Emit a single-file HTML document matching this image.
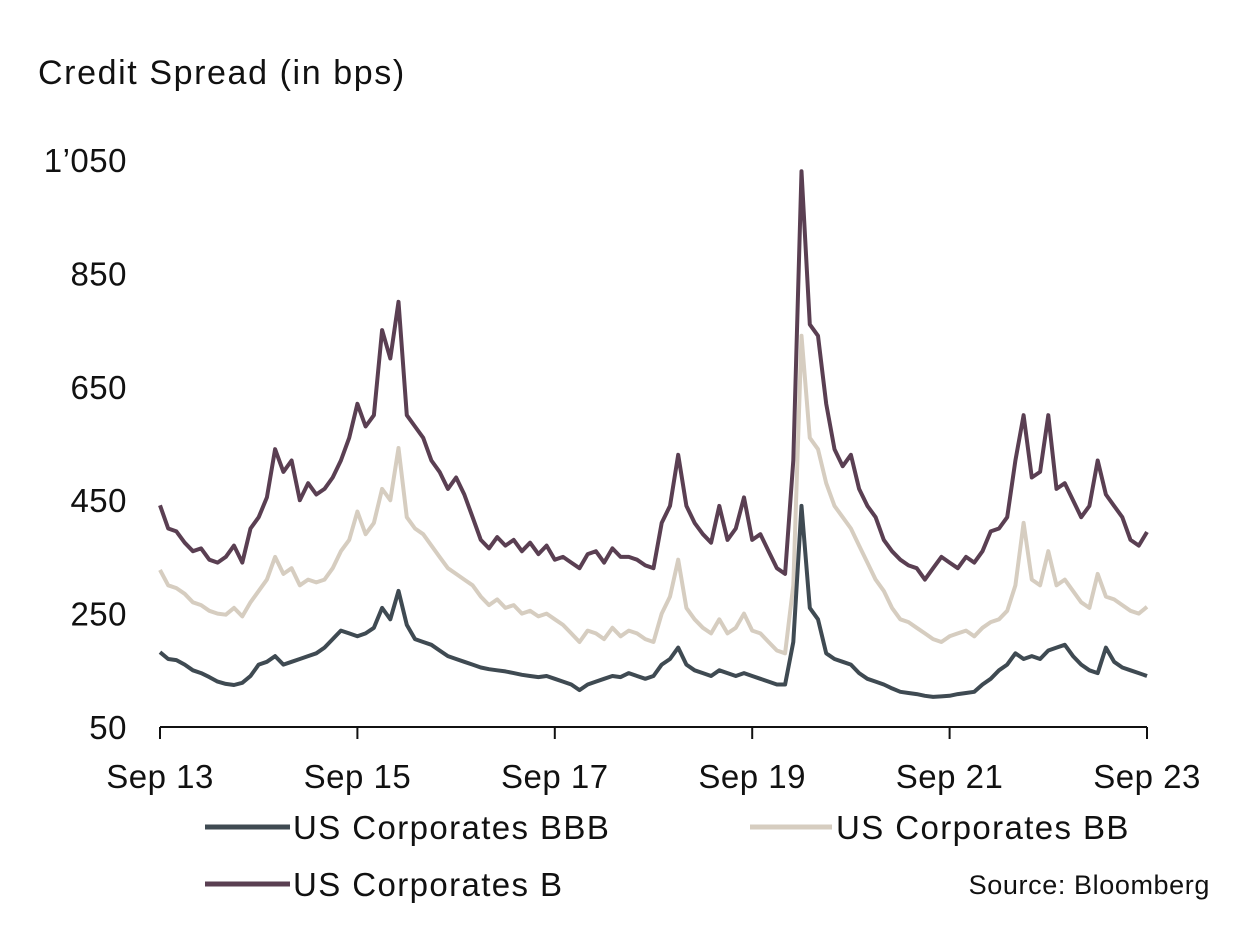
<!DOCTYPE html>
<html><head><meta charset="utf-8"><style>
html,body{margin:0;padding:0;background:#fff;}
svg{display:block;font-family:"Liberation Sans",sans-serif;}
</style></head><body>
<svg id="chart" width="1249" height="949">
<text x="38" y="84" font-size="34" letter-spacing="1.6" fill="#111">Credit Spread (in bps)</text>
<g id="yaxis"></g>
<g id="xaxis"></g>
<g id="series"></g>
<g>
<line x1="205" y1="827" x2="290" y2="827" stroke="#3f4a52" stroke-width="5"/>
<text x="293" y="839" font-size="33" letter-spacing="1.4" fill="#111">US Corporates BBB</text>
<line x1="750" y1="827" x2="832" y2="827" stroke="#d6cdc0" stroke-width="5"/>
<text x="836" y="839" font-size="33" letter-spacing="1.4" fill="#111">US Corporates BB</text>
<line x1="205" y1="884" x2="290" y2="884" stroke="#5a3f52" stroke-width="5"/>
<text x="293" y="896" font-size="33" letter-spacing="1.4" fill="#111">US Corporates B</text>
</g>
<text x="1210" y="894" font-size="27" letter-spacing="0.6" fill="#111" text-anchor="end">Source: Bloomberg</text>
</svg>
<script>
const yTicks=[50,250,450,650,850,1050];
const yTickLabels=["50","250","450","650","850","1’050"];
const xTickLabels=["Sep 13","Sep 15","Sep 17","Sep 19","Sep 21","Sep 23"];
const xTickMonths=[0,24,48,72,96,120];
const seriesB=[441,400,395,375,360,365,345,340,350,370,340,400,420,455,540,500,520,450,480,460,470,490,520,560,620,580,600,750,700,800,600,580,560,520,500,470,490,460,420,380,365,385,370,380,360,375,355,370,345,350,340,330,355,360,340,365,350,350,345,335,330,410,440,530,440,410,390,375,440,380,400,455,380,390,360,330,320,520,1030,760,740,620,540,510,530,470,440,420,380,360,345,335,330,310,330,350,340,330,350,340,360,395,400,420,520,600,490,500,600,470,480,450,420,440,520,460,440,420,380,370,394];
const seriesBB=[327,300,295,285,270,265,255,250,248,260,245,270,290,310,350,320,330,300,310,305,310,330,360,380,430,390,410,470,450,542,420,400,390,370,350,330,320,310,300,280,265,275,260,265,250,255,245,250,240,230,215,200,220,215,205,225,210,220,215,205,200,250,280,345,260,240,225,215,240,215,225,250,220,215,200,185,180,300,740,560,540,480,440,420,400,370,340,310,290,260,240,235,225,215,205,200,210,215,220,210,225,235,240,255,300,410,310,300,360,300,310,290,270,260,320,280,275,265,255,250,262];
const seriesBBB=[182,170,168,160,150,145,138,130,126,124,128,140,160,165,175,160,165,170,175,180,190,205,220,215,210,215,225,260,240,290,230,205,200,195,185,175,170,165,160,155,152,150,148,145,142,140,138,140,135,130,125,115,125,130,135,140,138,145,140,135,140,160,170,190,160,150,145,140,150,145,140,145,140,135,130,125,125,200,440,260,240,180,170,165,160,145,135,130,125,118,112,110,108,105,103,104,105,108,110,112,125,135,150,160,180,170,175,170,185,190,195,175,160,150,145,190,165,155,150,145,140];
const X0=160,X1=1147,Y0=727,PXV=0.567;
const xScale=m=>X0+(X1-X0)*m/120;
const yScale=v=>Y0-(v-50)*PXV;
const NS="http://www.w3.org/2000/svg";
const yg=document.getElementById('yaxis'),xg=document.getElementById('xaxis'),sg=document.getElementById('series');
yTicks.forEach((t,i)=>{
  const tx=document.createElementNS(NS,'text');
  tx.setAttribute('x',127);tx.setAttribute('y',yScale(t)+12);
  tx.setAttribute('text-anchor','end');tx.setAttribute('font-size','33');tx.setAttribute('letter-spacing','0.5');tx.setAttribute('fill','#111');
  tx.textContent=yTickLabels[i];
  
  
  yg.appendChild(tx);
});
const ax=document.createElementNS(NS,'line');
ax.setAttribute('x1',X0);ax.setAttribute('x2',X1);ax.setAttribute('y1',Y0);ax.setAttribute('y2',Y0);
ax.setAttribute('stroke','#111');ax.setAttribute('stroke-width','2');


xg.appendChild(ax);
xTickMonths.forEach((m,i)=>{
  const l=document.createElementNS(NS,'line');
  l.setAttribute('x1',xScale(m));l.setAttribute('x2',xScale(m));l.setAttribute('y1',Y0);l.setAttribute('y2',Y0+12);
  l.setAttribute('stroke','#111');l.setAttribute('stroke-width','2');
  
  
  xg.appendChild(l);
  const tx=document.createElementNS(NS,'text');
  tx.setAttribute('x',xScale(m));tx.setAttribute('y',788);
  tx.setAttribute('text-anchor','middle');tx.setAttribute('font-size','33');tx.setAttribute('letter-spacing','0.5');tx.setAttribute('fill','#111');
  tx.textContent=xTickLabels[i];
  
  
  xg.appendChild(tx);
});
function draw(arr,color,name){
  const p=document.createElementNS(NS,'polyline');
  p.setAttribute('points',arr.map((v,i)=>xScale(i).toFixed(1)+','+yScale(v).toFixed(1)).join(' '));
  p.setAttribute('fill','none');p.setAttribute('stroke',color);p.setAttribute('stroke-width','4');
  p.setAttribute('stroke-linejoin','round');
  
  
  sg.appendChild(p);
}
draw(seriesBB,'#d6cdc0','line-us-corporates-bb');
draw(seriesB,'#5a3f52','line-us-corporates-b');
draw(seriesBBB,'#3f4a52','line-us-corporates-bbb');
</script>
</body></html>
